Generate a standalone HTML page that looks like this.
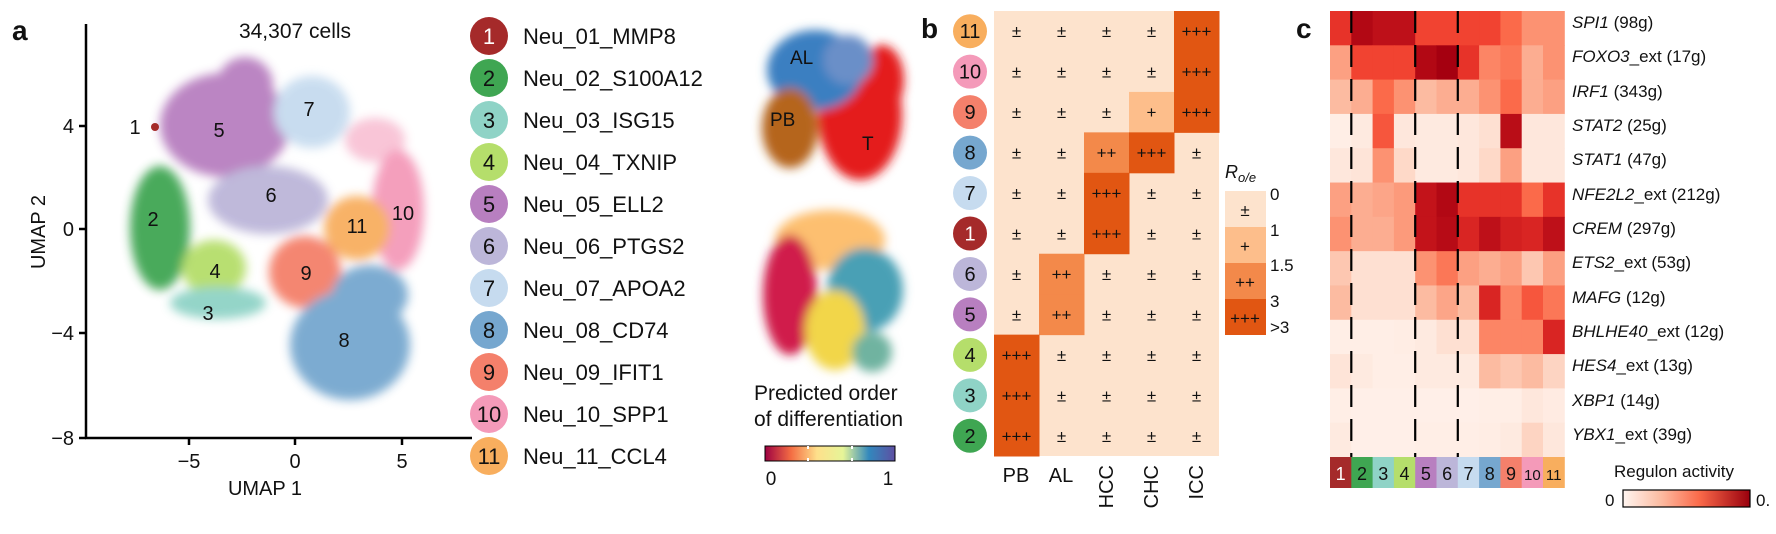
<!DOCTYPE html>
<html><head><meta charset="utf-8"><style>
body{margin:0;width:1776px;height:534px;background:#fff;overflow:hidden;font-family:"Liberation Sans",Arial,sans-serif;}
svg{position:absolute;left:0;top:0}
text{font-family:"Liberation Sans",Arial,sans-serif;fill:#111}
</style></head><body>
<svg width="1776" height="534" viewBox="0 0 1776 534" xmlns="http://www.w3.org/2000/svg">
<defs>
<filter id="bl" x="-30%" y="-30%" width="160%" height="160%"><feGaussianBlur stdDeviation="5"/></filter>
<filter id="bl2" x="-30%" y="-30%" width="160%" height="160%"><feGaussianBlur stdDeviation="5"/></filter>
<linearGradient id="spec" x1="0" x2="1" y1="0" y2="0">
<stop offset="0" stop-color="#9e0142"/><stop offset="0.2" stop-color="#f46d43"/><stop offset="0.4" stop-color="#fee08b"/><stop offset="0.6" stop-color="#e6f598"/><stop offset="0.8" stop-color="#3288bd"/><stop offset="1" stop-color="#5e4fa2"/></linearGradient>
<linearGradient id="reds" x1="0" x2="1" y1="0" y2="0">
<stop offset="0" stop-color="#fff5f0"/><stop offset="0.3" stop-color="#fcbba1"/><stop offset="0.6" stop-color="#fb6a4a"/><stop offset="1" stop-color="#99000d"/></linearGradient>
</defs>

<!-- Panel a -->
<text x="12" y="40" font-size="28" font-weight="bold">a</text>
<text x="295" y="38" font-size="21" text-anchor="middle">34,307 cells</text>
<g filter="url(#bl)" opacity="0.95">
<ellipse cx="375" cy="140" rx="30" ry="22" fill="#f49ab9" opacity="0.6"/>
<ellipse cx="225" cy="125" rx="65" ry="52" fill="#b87fc0"/>
<ellipse cx="245" cy="85" rx="28" ry="28" fill="#b87fc0"/>
<ellipse cx="312" cy="112" rx="38" ry="36" fill="#c6dbef"/>
<ellipse cx="160" cy="228" rx="30" ry="62" fill="#3fa652"/>
<ellipse cx="214" cy="268" rx="32" ry="28" fill="#b5de6b"/>
<ellipse cx="218" cy="303" rx="48" ry="16" fill="#8fd3c6"/>
<ellipse cx="268" cy="200" rx="60" ry="34" fill="#bcb6d9"/>
<ellipse cx="398" cy="210" rx="26" ry="60" fill="#f49ab9"/>
<ellipse cx="357" cy="228" rx="33" ry="32" fill="#f8ae5e"/>
<ellipse cx="305" cy="272" rx="36" ry="36" fill="#f4806b"/>
<ellipse cx="350" cy="345" rx="60" ry="55" fill="#76a7cf"/>
<ellipse cx="370" cy="295" rx="38" ry="30" fill="#76a7cf"/>
</g>
<circle cx="155" cy="127" r="4" fill="#a52a2a"/>
<g font-size="20">
<text x="135" y="134" text-anchor="middle">1</text>
<text x="153" y="226" text-anchor="middle">2</text>
<text x="208" y="320" text-anchor="middle">3</text>
<text x="215" y="278" text-anchor="middle">4</text>
<text x="219" y="137" text-anchor="middle">5</text>
<text x="271" y="202" text-anchor="middle">6</text>
<text x="309" y="116" text-anchor="middle">7</text>
<text x="344" y="347" text-anchor="middle">8</text>
<text x="306" y="280" text-anchor="middle">9</text>
<text x="403" y="220" text-anchor="middle">10</text>
<text x="357" y="233" text-anchor="middle">11</text>
</g>
<g stroke="#000" stroke-width="2.5">
<line x1="86" y1="24" x2="86" y2="439"/>
<line x1="85" y1="438" x2="472" y2="438"/>
<line x1="79" y1="126" x2="86" y2="126"/><line x1="79" y1="229" x2="86" y2="229"/><line x1="79" y1="333" x2="86" y2="333"/><line x1="79" y1="438" x2="86" y2="438"/>
<line x1="189" y1="438" x2="189" y2="445"/><line x1="295" y1="438" x2="295" y2="445"/><line x1="402" y1="438" x2="402" y2="445"/>
</g>
<g font-size="20">
<text x="74" y="133" text-anchor="end">4</text>
<text x="74" y="236" text-anchor="end">0</text>
<text x="74" y="340" text-anchor="end">−4</text>
<text x="74" y="445" text-anchor="end">−8</text>
<text x="189" y="468" text-anchor="middle">−5</text>
<text x="295" y="468" text-anchor="middle">0</text>
<text x="402" y="468" text-anchor="middle">5</text>
<text x="265" y="495" text-anchor="middle">UMAP 1</text>
<text transform="translate(45,232) rotate(-90)" text-anchor="middle">UMAP 2</text>
</g>

<!-- Legend -->
<g font-size="22">
<circle cx="489" cy="36" r="19" fill="#a52a2a"/><text x="489" y="44" text-anchor="middle" style="fill:#fff">1</text><text x="523" y="44">Neu_01_MMP8</text>
<circle cx="489" cy="78" r="19" fill="#3fa652"/><text x="489" y="86" text-anchor="middle">2</text><text x="523" y="86">Neu_02_S100A12</text>
<circle cx="489" cy="120" r="19" fill="#8fd3c6"/><text x="489" y="128" text-anchor="middle">3</text><text x="523" y="128">Neu_03_ISG15</text>
<circle cx="489" cy="162" r="19" fill="#b5de6b"/><text x="489" y="170" text-anchor="middle">4</text><text x="523" y="170">Neu_04_TXNIP</text>
<circle cx="489" cy="204" r="19" fill="#b87fc0"/><text x="489" y="212" text-anchor="middle">5</text><text x="523" y="212">Neu_05_ELL2</text>
<circle cx="489" cy="246" r="19" fill="#bcb6d9"/><text x="489" y="254" text-anchor="middle">6</text><text x="523" y="254">Neu_06_PTGS2</text>
<circle cx="489" cy="288" r="19" fill="#c6dbef"/><text x="489" y="296" text-anchor="middle">7</text><text x="523" y="296">Neu_07_APOA2</text>
<circle cx="489" cy="330" r="19" fill="#76a7cf"/><text x="489" y="338" text-anchor="middle">8</text><text x="523" y="338">Neu_08_CD74</text>
<circle cx="489" cy="372" r="19" fill="#f4806b"/><text x="489" y="380" text-anchor="middle">9</text><text x="523" y="380">Neu_09_IFIT1</text>
<circle cx="489" cy="414" r="19" fill="#f49ab9"/><text x="489" y="422" text-anchor="middle">10</text><text x="523" y="422">Neu_10_SPP1</text>
<circle cx="489" cy="456" r="19" fill="#f8ae5e"/><text x="489" y="464" text-anchor="middle">11</text><text x="523" y="464">Neu_11_CCL4</text>
</g>

<!-- small UMAPs -->
<g filter="url(#bl2)">
<ellipse cx="860" cy="115" rx="42" ry="65" fill="#e41a1c"/>
<ellipse cx="882" cy="80" rx="22" ry="35" fill="#e41a1c"/>
<ellipse cx="815" cy="70" rx="48" ry="40" fill="#3a7fc1"/>
<ellipse cx="848" cy="60" rx="25" ry="25" fill="#6a8fc8"/>
<ellipse cx="790" cy="128" rx="28" ry="40" fill="#b5651d"/>
<ellipse cx="830" cy="240" rx="55" ry="30" fill="#fdbf6f"/>
<ellipse cx="790" cy="295" rx="27" ry="60" fill="#d01c4b"/>
<ellipse cx="865" cy="290" rx="38" ry="42" fill="#4aa0b5"/>
<ellipse cx="835" cy="330" rx="30" ry="40" fill="#f2d64a"/>
<ellipse cx="872" cy="352" rx="20" ry="20" fill="#6fb3a0"/>
</g>
<text x="790" y="64" font-size="19">AL</text>
<text x="770" y="126" font-size="19">PB</text>
<text x="862" y="150" font-size="19">T</text>
<text x="754" y="400" font-size="21">Predicted order</text>
<text x="754" y="426" font-size="21">of differentiation</text>
<rect x="765" y="446" width="130" height="15" fill="url(#spec)" stroke="#000" stroke-width="1"/>
<line x1="808" y1="446" x2="808" y2="461" stroke="#fff" stroke-width="2" stroke-dasharray="3 9"/>
<line x1="852" y1="446" x2="852" y2="461" stroke="#fff" stroke-width="2" stroke-dasharray="3 9"/>
<text x="771" y="485" font-size="19" text-anchor="middle">0</text>
<text x="888" y="485" font-size="19" text-anchor="middle">1</text>

<!-- Panel b -->
<text x="921" y="38" font-size="28" font-weight="bold">b</text>
<rect x="994" y="11" width="225" height="445" fill="#fde3cd"/>
<g id="bcells"></g>
<g id="bcirc" font-size="20"></g>
<g font-size="20">
<text x="1016" y="482" text-anchor="middle">PB</text>
<text x="1061" y="482" text-anchor="middle">AL</text>
<text transform="translate(1113,465) rotate(-90)" text-anchor="end">HCC</text>
<text transform="translate(1158,465) rotate(-90)" text-anchor="end">CHC</text>
<text transform="translate(1203,465) rotate(-90)" text-anchor="end">ICC</text>
</g>
<text x="1225" y="178" font-size="18" font-style="italic">R<tspan font-size="13" dy="4">o/e</tspan></text>
<rect x="1225" y="191" width="41" height="36" fill="#fde3cd"/>
<rect x="1225" y="227" width="41" height="36" fill="#fdbe8b"/>
<rect x="1225" y="263" width="41" height="36" fill="#f3894a"/>
<rect x="1225" y="299" width="41" height="36" fill="#e15612"/>
<g font-size="17" text-anchor="middle"><text x="1245" y="216">±</text><text x="1245" y="252">+</text><text x="1245" y="288">++</text><text x="1245" y="324">+++</text></g>
<g font-size="17"><text x="1270" y="200">0</text><text x="1270" y="236">1</text><text x="1270" y="271">1.5</text><text x="1270" y="307">3</text><text x="1270" y="333">&gt;3</text></g>

<!-- Panel c -->
<text x="1296" y="38" font-size="28" font-weight="bold">c</text>
<g id="ccells"></g>
<g id="cdash" stroke="#000" stroke-width="2.2" stroke-dasharray="22 12"></g>
<g id="cstrip" font-size="18"></g>
<g font-size="17">
<text x="1572" y="28"><tspan font-style="italic">SPI1</tspan> (98g)</text>
<text x="1572" y="62"><tspan font-style="italic">FOXO3</tspan>_ext (17g)</text>
<text x="1572" y="97"><tspan font-style="italic">IRF1</tspan> (343g)</text>
<text x="1572" y="131"><tspan font-style="italic">STAT2</tspan> (25g)</text>
<text x="1572" y="165"><tspan font-style="italic">STAT1</tspan> (47g)</text>
<text x="1572" y="200"><tspan font-style="italic">NFE2L2</tspan>_ext (212g)</text>
<text x="1572" y="234"><tspan font-style="italic">CREM</tspan> (297g)</text>
<text x="1572" y="268"><tspan font-style="italic">ETS2</tspan>_ext (53g)</text>
<text x="1572" y="303"><tspan font-style="italic">MAFG</tspan> (12g)</text>
<text x="1572" y="337"><tspan font-style="italic">BHLHE40</tspan>_ext (12g)</text>
<text x="1572" y="371"><tspan font-style="italic">HES4</tspan>_ext (13g)</text>
<text x="1572" y="406"><tspan font-style="italic">XBP1</tspan> (14g)</text>
<text x="1572" y="440"><tspan font-style="italic">YBX1</tspan>_ext (39g)</text>
<text x="1614" y="477">Regulon activity</text>
<text x="1605" y="506">0</text>
<text x="1756" y="506">0.</text>
</g>
<rect x="1623" y="490" width="127" height="17" fill="url(#reds)" stroke="#000" stroke-width="1.2"/>
</svg>
<script>
var NS="http://www.w3.org/2000/svg";
function el(p,t,a,txt){var e=document.createElementNS(NS,t);for(var k in a)e.setAttribute(k,a[k]);if(txt!=null)e.textContent=txt;p.appendChild(e);return e;}
var bc=document.getElementById('bcells'),bci=document.getElementById('bcirc');
var rows=[[11,'#f8ae5e',[0,0,0,0,3]],[10,'#f49ab9',[0,0,0,0,3]],[9,'#f4806b',[0,0,0,1,3]],[8,'#76a7cf',[0,0,2,3,0]],[7,'#c6dbef',[0,0,3,0,0]],[1,'#a52a2a',[0,0,3,0,0]],[6,'#bcb6d9',[0,2,0,0,0]],[5,'#b87fc0',[0,2,0,0,0]],[4,'#b5de6b',[3,0,0,0,0]],[3,'#8fd3c6',[3,0,0,0,0]],[2,'#3fa652',[3,0,0,0,0]]];
var bcol=['#fde3cd','#fdbe8b','#f3894a','#e15612'],bsym=['±','+','++','+++'];
var rh=445/11;
rows.forEach(function(r,i){var y=11+i*rh;
 el(bci,'circle',{cx:970,cy:y+rh/2,r:17,fill:r[1]});
 var t=el(bci,'text',{x:970,y:y+rh/2+7,'text-anchor':'middle'},String(r[0]));if(r[0]==1)t.setAttribute('style','fill:#fff');
 r[2].forEach(function(v,j){var x=994+j*45;
  if(v>0)el(bc,'rect',{x:x,y:y,width:45.5,height:rh+0.5,fill:bcol[v]});
  el(bc,'text',{x:x+22.5,y:y+rh/2+6,'text-anchor':'middle','font-size':17},bsym[v]);});
});
var V=[[.75,.95,.9,.9,.7,.7,.7,.7,.6,.45,.45],[.4,.7,.7,.7,.95,1,.75,.5,.55,.35,.45],[.3,.35,.6,.45,.3,.35,.35,.45,.6,.35,.4],[.05,.08,.65,.1,.08,.08,.1,.15,.92,.1,.1],[.1,.12,.45,.18,.08,.08,.1,.18,.4,.1,.1],[.4,.35,.38,.42,.88,.95,.75,.75,.75,.6,.75],[.45,.35,.35,.42,.88,.93,.8,.9,.82,.8,.9],[.25,.15,.15,.15,.45,.55,.4,.35,.4,.25,.4],[.3,.15,.15,.15,.3,.38,.3,.8,.5,.65,.55],[.05,.05,.05,.06,.08,.15,.15,.5,.5,.5,.8],[.12,.08,.05,.05,.08,.08,.08,.3,.25,.3,.2],[.05,.04,.04,.04,.04,.04,.04,.05,.05,.1,.07],[.08,.04,.04,.04,.05,.05,.05,.06,.08,.2,.1]];
var stops=[[0,[255,245,240]],[.15,[254,224,210]],[.3,[252,187,161]],[.45,[252,146,114]],[.6,[251,106,74]],[.72,[239,59,44]],[.85,[203,24,29]],[1,[165,0,16]]];
function red(v){for(var i=1;i<stops.length;i++){if(v<=stops[i][0]){var a=stops[i-1],b=stops[i],t=(v-a[0])/(b[0]-a[0]);return 'rgb('+a[1].map(function(c,k){return Math.round(c+(b[1][k]-c)*t)}).join(',')+')';}}return 'rgb(165,0,16)';}
var cc=document.getElementById('ccells'),cw=21.3,ch=(457-11)/13;
V.forEach(function(r,i){r.forEach(function(v,j){el(cc,'rect',{x:1330+j*cw,y:11+i*ch,width:cw+0.5,height:ch+0.5,fill:red(v)});});});
var cd=document.getElementById('cdash');
[1,4,6].forEach(function(k){var x=1330+k*cw;el(cd,'line',{x1:x,y1:11,x2:x,y2:457});});
var cs=document.getElementById('cstrip');
var sc=['#a52a2a','#3fa652','#8fd3c6','#b5de6b','#b87fc0','#bcb6d9','#c6dbef','#76a7cf','#f4806b','#f49ab9','#f8ae5e'];
sc.forEach(function(c,j){var x=1330+j*cw;el(cs,'rect',{x:x,y:457,width:cw+0.5,height:31,fill:c});
 var t=el(cs,'text',{x:x+cw/2,y:480,'text-anchor':'middle'},String(j+1));if(j==0)t.setAttribute('style','fill:#fff');if(j>=9)t.setAttribute('font-size','15');});
</script>
</body></html>
